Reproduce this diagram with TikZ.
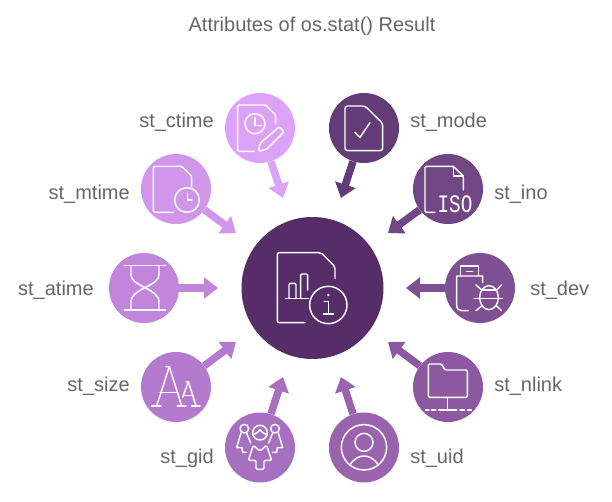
\documentclass[tikz,border=0pt]{standalone}
\usepackage{fontspec}
\setmainfont{Liberation Sans}
\newfontfamily\isofont{Liberation Mono}
\usetikzlibrary{arrows.meta}
\definecolor{cctime}{HTML}{DCA2F7}
\definecolor{cmtime}{HTML}{CF96E9}
\definecolor{catime}{HTML}{C186DB}
\definecolor{csize}{HTML}{B37ACE}
\definecolor{cgid}{HTML}{A66FBF}
\definecolor{cuid}{HTML}{9963AE}
\definecolor{cnlink}{HTML}{8C59A1}
\definecolor{cdev}{HTML}{7E4F93}
\definecolor{cino}{HTML}{714685}
\definecolor{cmode}{HTML}{633B76}
\definecolor{cmain}{HTML}{562D68}
\definecolor{txt}{HTML}{666666}
\tikzset{
  disc/.style={circle,fill=#1,minimum size=52.5pt,inner sep=0pt},
  link/.style={draw=#1,line width=5.6pt,-{Triangle[length=10.5pt,width=15.5pt]}},
  lab/.style={text=txt,font=\fontsize{15pt}{18pt}\selectfont,inner sep=0pt},
  icon/.style={draw=white,line width=1.1pt,line cap=round,line join=round},
}
\begin{document}
\begin{tikzpicture}[x=.75pt,y=-.75pt]
\useasboundingbox (0,0) rectangle (612,502);
\node[lab,anchor=base] (title) at (312,32) {Attributes of os.stat() Result};
\node[disc=cmain,minimum size=106.5pt] (main) at (312.5,288) {};
\node[disc=cctime] (ctime) at (260,128) {};
\node[disc=cmtime] (mtime) at (176,189) {};
\node[disc=catime] (atime) at (144,288) {};
\node[disc=csize] (size) at (176,387) {};
\node[disc=cgid] (gid) at (260,447.5) {};
\node[disc=cuid] (uid) at (364,447.5) {};
\node[disc=cnlink] (nlink) at (448,387) {};
\node[disc=cdev] (dev) at (480,288) {};
\node[disc=cino] (ino) at (448,189) {};
\node[disc=cmode] (mode) at (364,128) {};
\coordinate (tctime) at (283,198);
\coordinate (tmtime) at (236,233);
\coordinate (tatime) at (218,288);
\coordinate (tsize) at (236,342);
\coordinate (tgid) at (283,377);
\coordinate (tuid) at (341,377);
\coordinate (tnlink) at (388,342);
\coordinate (tdev) at (406,288);
\coordinate (tino) at (388,233);
\coordinate (tmode) at (341,198);
\foreach \n in {ctime,mtime,atime,size,gid,uid,nlink,dev,ino,mode}
  \draw[link=c\n] (\n) -- (t\n);
\node[lab,anchor=base east] (lctime) at (214,128) {st\_ctime};
\node[lab,anchor=base east] (lmtime) at (130,200) {st\_mtime};
\node[lab,anchor=base east] (latime) at (94,296) {st\_atime};
\node[lab,anchor=base east] (lsize) at (130,392) {st\_size};
\node[lab,anchor=base east] (lgid) at (214,464) {st\_gid};
\node[lab,anchor=base west] (luid) at (410,464) {st\_uid};
\node[lab,anchor=base west] (lnlink) at (494,392) {st\_nlink};
\node[lab,anchor=base west] (ldev) at (530,296) {st\_dev};
\node[lab,anchor=base west] (lino) at (494,200) {st\_ino};
\node[lab,anchor=base west] (lmode) at (410,128) {st\_mode};
% ctime icon
\begin{scope}[shift={(100,80)},x=.25pt,y=-.25pt,icon]
\draw[rounded corners=1pt] (462,214) -- (413,214) -- (413,75) -- (497,75) -- (527,105) -- (527,130);
\draw (465,131) circle[radius=30];
\draw (465,113) -- (465,137) -- (485,137);
\draw[fill=cctime,rounded corners=1.2pt] (475,214) -- (480,190) -- (538,140) -- (552,155) -- (500,208) -- cycle;
\end{scope}
% mtime icon
\begin{scope}[shift={(100,80)},x=.25pt,y=-.25pt,icon]
\draw[rounded corners=1pt] (220,397) -- (160,397) -- (160,259) -- (245,259) -- (275,288) -- (275,320);
\draw (261,360) circle[radius=37];
\draw (262,340) -- (262,360) -- (276,360);
\end{scope}
% mode icon
\begin{scope}[shift={(310,80)},x=.25pt,y=-.25pt,icon]
\draw[rounded corners=2pt] (105,78) -- (165,78) -- (218,130) -- (218,212) -- (105,212) -- cycle;
\draw (135,157) -- (150,172) -- (180,128);
\end{scope}
% ino icon
\begin{scope}[shift={(310,80)},x=.25pt,y=-.25pt,icon]
\draw[rounded corners=1pt] (375,397) -- (345,397) -- (345,259) -- (430,259) -- (460,288) -- (460,330);
\draw (430,259) -- (430,288) -- (460,288);
\end{scope}
\node[text=white,inner sep=0pt,yscale=1.3,font=\isofont\fontsize{14.5pt}{16pt}\selectfont] (isotext) at (455,204.5) {ISO};
% atime icon
\begin{scope}[shift={(115,258)},x=.25pt,y=-.25pt,icon]
\draw (28,22) -- (152,22);
\draw (28,156) -- (152,156);
\draw (48,22) -- (48,48) .. controls (48,70) and (70,78) .. (90,89) .. controls (110,100) and (132,110) .. (132,132) -- (132,156);
\draw (132,22) -- (132,48) .. controls (132,70) and (110,78) .. (90,89) .. controls (70,100) and (48,110) .. (48,132) -- (48,156);
\end{scope}
% dev icon
\begin{scope}[shift={(450,258)},x=.25pt,y=-.25pt,icon]
\draw (32,54) -- (32,24) -- (85,24) -- (85,54);
\draw (50,40) -- (68,40);
\draw (98,74) -- (98,54) -- (20,54) -- (20,141) .. controls (20,152) and (26,158) .. (35,158) -- (55,158);
\draw (117,119) ellipse[x radius=28,y radius=36];
\draw (72,121) -- (158,121);
\draw (95,96) -- (140,96);
\draw (78,81) -- (95,96);
\draw (155,81) -- (140,96);
\draw (78,158) -- (95,144);
\draw (155,158) -- (140,144);
\end{scope}
% size icon
\begin{scope}[shift={(100,240)},x=.25pt,y=-.25pt,icon]
\draw (198,380) -- (208,380) -- (245,498);
\draw (208,380) -- (170,498);
\draw (155,498) -- (183,498);
\draw (232,498) -- (258,498);
\draw (180,457) -- (233,457);
\draw (265,425) -- (248,472);
\draw (258,425) -- (265,425) -- (288,498);
\draw (275,498) -- (300,498);
\draw (252,466) -- (280,466);
\end{scope}
% gid icon
\begin{scope}[shift={(230,417)},x=.25pt,y=-.25pt,icon]
\draw (90,47) circle[radius=22];
\draw (72,52) .. controls (80,50) and (85,44) .. (90,38) .. controls (95,44) and (100,50) .. (108,52);
\draw (43,35) circle[radius=13];
\draw (135,35) circle[radius=13];
\draw (33,48) -- (20,92) -- (36,92) -- (38,106) -- (50,106);
\draw (50,48) -- (62,78);
\draw (145,48) -- (158,92) -- (142,92) -- (140,106) -- (128,106);
\draw (128,48) -- (116,78);
\draw[rounded corners=1pt] (70,85) -- (55,130) -- (78,130) -- (78,157) -- (102,157) -- (102,130) -- (125,130) -- (110,85) -- (90,102) -- cycle;
\end{scope}
% uid icon
\begin{scope}[shift={(310,240)},x=.25pt,y=-.25pt,icon]
\draw (162,622) circle[radius=68];
\draw (162,607) circle[radius=27];
\draw (120,675) .. controls (132,655) and (148,648) .. (162,648) .. controls (176,648) and (192,655) .. (205,675);
\end{scope}
% nlink icon
\begin{scope}[shift={(310,240)},x=.25pt,y=-.25pt,icon]
\draw[rounded corners=1pt] (355,472) -- (355,372) -- (395,372) -- (405,390) -- (472,390) -- (472,472) -- cycle;
\draw (413,472) -- (413,510);
\draw (347,510) -- (357,510);
\draw (365,510) -- (378,510);
\draw (385,510) -- (440,510);
\draw (450,510) -- (464,510);
\draw (472,510) -- (484,510);
\end{scope}
% main icon
\begin{scope}[shift={(235,210)},x=.25pt,y=-.25pt,icon]
\draw[rounded corners=1.5pt] (210,338) -- (127,338) -- (127,128) -- (258,128) -- (300,170) -- (300,205);
\draw (152,265) -- (220,265);
\draw[rounded corners=1pt] (162,265) -- (162,220) -- (183,220) -- (183,265);
\draw[rounded corners=1pt] (197,265) -- (197,192) -- (218,192) -- (218,240);
\draw (280,285) circle[radius=56];
\draw[fill=white] (280,255) circle[radius=1.5];
\draw (268,275) -- (280,275) -- (280,311);
\draw (265,312) -- (295,312);
\end{scope}
\end{tikzpicture}
\end{document}
